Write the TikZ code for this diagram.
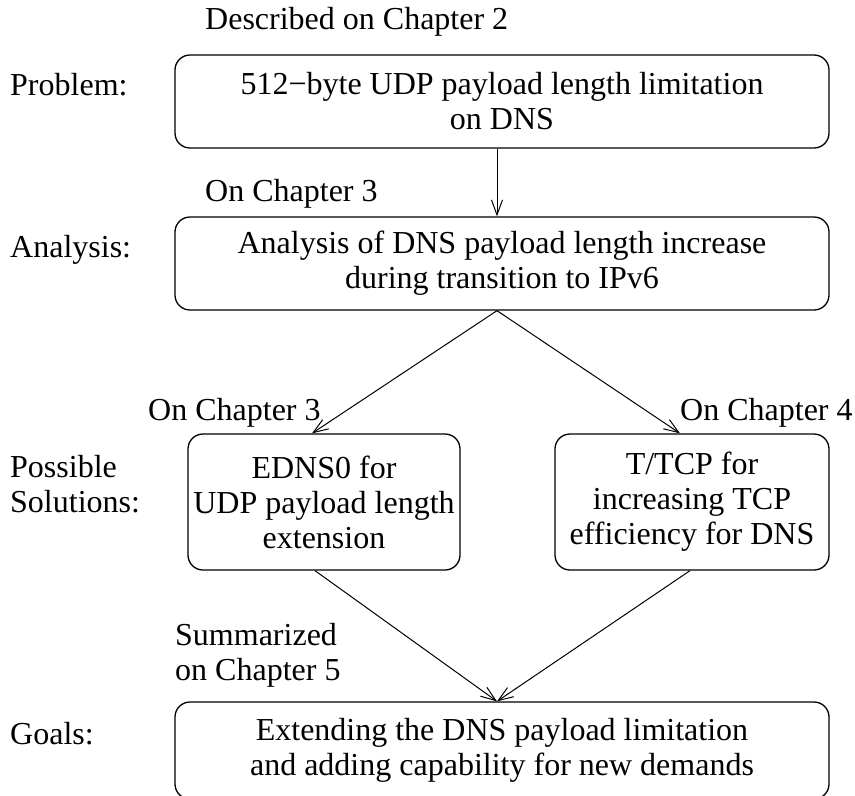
\documentclass[tikz,border=0pt]{standalone}
\usepackage{fontspec}
\setmainfont{Liberation Serif}
\usetikzlibrary{arrows.meta,calc}
\begin{document}
\begin{tikzpicture}[x=1pt,y=-1pt,
  box/.style={draw,rounded corners=15pt,line width=1.3pt,align=center,
    inner sep=0pt,font=\fontsize{32}{35}\selectfont},
  lbl/.style={anchor=base west,inner sep=0pt,font=\fontsize{32}{35}\selectfont},
  flow/.style={line width=1pt,-{Straight Barb[length=15pt,width=11pt]}}]
\useasboundingbox (0,0) rectangle (855,796);

% boxes of the flow
\node[box,minimum width=654pt,minimum height=93pt] (prob) at (502,101.5)
  {512−byte UDP payload length limitation\\on DNS};
\node[box,minimum width=654pt,minimum height=93pt] (ana) at (502,263.5)
  {Analysis of DNS payload length increase\\during transition to IPv6};
\node[box,minimum width=272pt,minimum height=136pt] (edns) at (324,502)
  {EDNS0 for\\UDP payload length\\extension};
\node[box,minimum width=274pt,minimum height=136pt] (ttcp) at (692,502)
  {T/TCP for\\increasing TCP\\efficiency for DNS};
\node[box,minimum width=654pt,minimum height=97pt] (goal) at (502,750.5)
  {Extending the DNS payload limitation\\and adding capability for new demands};

% row titles
\node[lbl] (tprob) at (10,95) {Problem:};
\node[lbl] (tana) at (10,257) {Analysis:};
\node[lbl] (tpos1) at (10,477) {Possible};
\node[lbl] (tpos2) at (10,512) {Solutions:};
\node[lbl] (tgoal) at (10,744) {Goals:};

% chapter notes
\node[lbl] (c2) at (205,29) {Described on Chapter 2};
\node[lbl] (c3a) at (205,201) {On Chapter 3};
\node[lbl] (c3b) at (148,420) {On Chapter 3};
\node[lbl] (c4) at (680,420) {On Chapter 4};
\node[lbl] (c5a) at (175,645) {Summarized};
\node[lbl] (c5b) at (175,680) {on Chapter 5};

% connectors
\draw[flow] (prob.south -| 497,0) -- (ana.north -| 497,0);
\draw[flow] (ana.south -| 497,0) -- ([xshift=-12pt]edns.north);
\draw[flow] (ana.south -| 497,0) -- ([xshift=-12pt]ttcp.north);
\draw[flow] ([xshift=-9pt]edns.south) -- (goal.north -| 497,0);
\draw[flow] ([xshift=-2pt]ttcp.south) -- (goal.north -| 497,0);
\end{tikzpicture}
\end{document}
